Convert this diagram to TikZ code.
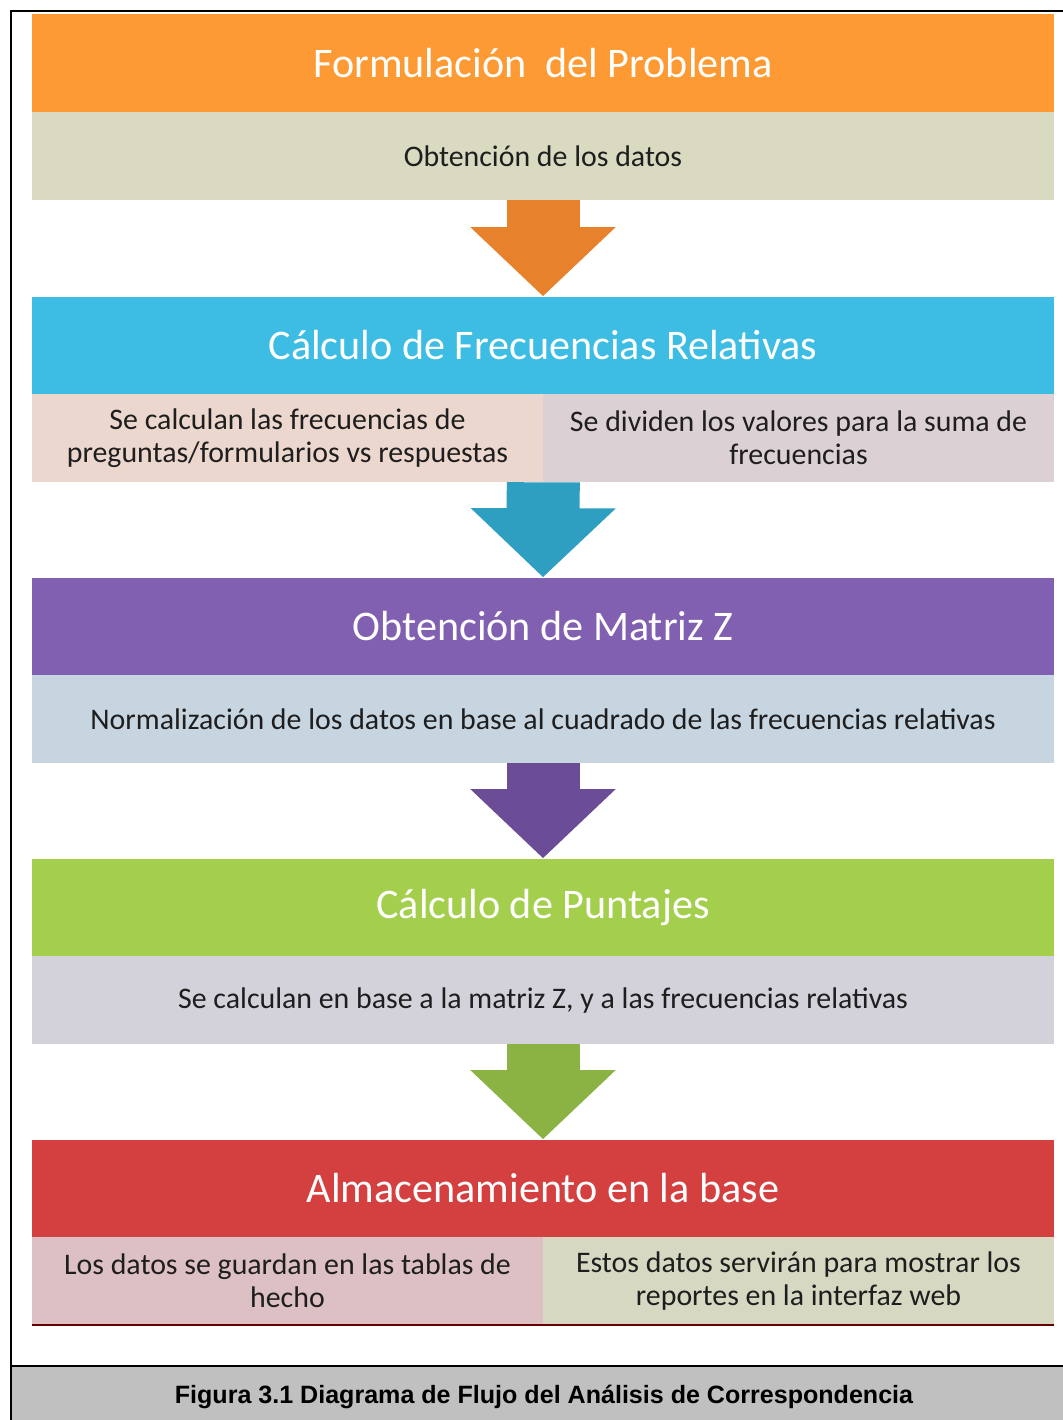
\documentclass[tikz,border=0pt]{standalone}
\usepackage{fontspec}
\setmainfont{Carlito}
\newfontfamily\captionfont{Liberation Sans}
\usetikzlibrary{arrows.meta,positioning}

\definecolor{orangeH}{HTML}{FE9A33}
\definecolor{orangeA}{HTML}{E8812B}
\definecolor{cyanH}{HTML}{3DBDE3}
\definecolor{cyanA}{HTML}{2E9EC1}
\definecolor{purpleH}{HTML}{8260B1}
\definecolor{purpleA}{HTML}{6A4C97}
\definecolor{greenH}{HTML}{A4CF4D}
\definecolor{greenA}{HTML}{8AB343}
\definecolor{redH}{HTML}{D4403F}
\definecolor{tanB}{HTML}{D9DAC0}
\definecolor{peachB}{HTML}{ECD7CE}
\definecolor{roseB}{HTML}{DBD0D3}
\definecolor{blueB}{HTML}{C7D5E1}
\definecolor{lavB}{HTML}{D3D1D9}
\definecolor{pinkB}{HTML}{DDC0C3}
\definecolor{sageB}{HTML}{D6D8C1}
\definecolor{textdark}{HTML}{1E1E1E}
\definecolor{captiongray}{HTML}{C0C0C0}

\begin{document}
\begin{tikzpicture}[x=0.75pt,y=-0.75pt,
    head/.style={rectangle,minimum width=766.5pt,minimum height=72.75pt,
      inner sep=0pt,text=white,font=\fontsize{31.6}{34}\selectfont},
    body/.style={rectangle,minimum width=766.5pt,minimum height=66pt,
      inner sep=0pt,align=center,text=textdark,
      font=\fontsize{22.4}{24.75}\selectfont},
    half/.style={body,minimum width=383.25pt},
    flow/.style={line width=54.75pt,
      -{Triangle[width=105.75pt,length=51.75pt]}}]

  \useasboundingbox (0,0) rectangle (1063,1420);

  % frame and caption band
  \fill[captiongray] (11,1367) rectangle (1063,1420);
  \draw[line width=1.5pt] (11,1420) -- (11,11) -- (1063,11);
  \draw[line width=1.5pt] (11,1366) -- (1063,1366);
  \node[font=\captionfont\bfseries\fontsize{18.8}{20}\selectfont] (cap) at (544,1397)
    {Figura 3.1 Diagrama de Flujo del Análisis de Correspondencia};

  % stages
  \node[head,fill=orangeH] (h1) at (543,63)   {Formulación \ del Problema};
  \node[body,fill=tanB,below=0pt of h1] (b1) {Obtención de los datos};

  \node[head,fill=cyanH] (h2) at (543,345)  {Cálculo de Frecuencias Relativas};
  \node[half,fill=peachB,anchor=north west] (b2l) at (h2.south west)
    {Se calculan las frecuencias de\\preguntas/formularios vs respuestas};
  \node[half,fill=roseB,anchor=north east] (b2r) at (h2.south east)
    {Se dividen los valores para la suma de\\frecuencias};

  \node[head,fill=purpleH] (h3) at (543,626)  {Obtención de Matriz Z};
  \node[body,fill=blueB,below=0pt of h3] (b3)
    {Normalización de los datos en base al cuadrado de las frecuencias relativas};

  \node[head,fill=greenH] (h4) at (543,907)  {Cálculo de Puntajes};
  \node[body,fill=lavB,below=0pt of h4] (b4)
    {Se calculan en base a la matriz Z, y a las frecuencias relativas};

  \node[head,fill=redH] (h5) at (543,1188) {Almacenamiento en la base};
  \node[half,fill=pinkB,anchor=north west] (b5l) at (h5.south west)
    {Los datos se guardan en las tablas de\\hecho};
  \node[half,fill=sageB,anchor=north east] (b5r) at (h5.south east)
    {Estos datos servirán para mostrar los\\reportes en la interfaz web};
  \draw[line width=1.5pt,red!40!black] (b5l.south west) -- (b5r.south east);

  % arrows
  \path (b1.south)      edge[flow,orangeA] (h2.north)
        (b2l.south east) edge[flow,cyanA]   (h3.north)
        (b3.south)      edge[flow,purpleA] (h4.north)
        (b4.south)      edge[flow,greenA]  (h5.north);
\end{tikzpicture}
\end{document}
